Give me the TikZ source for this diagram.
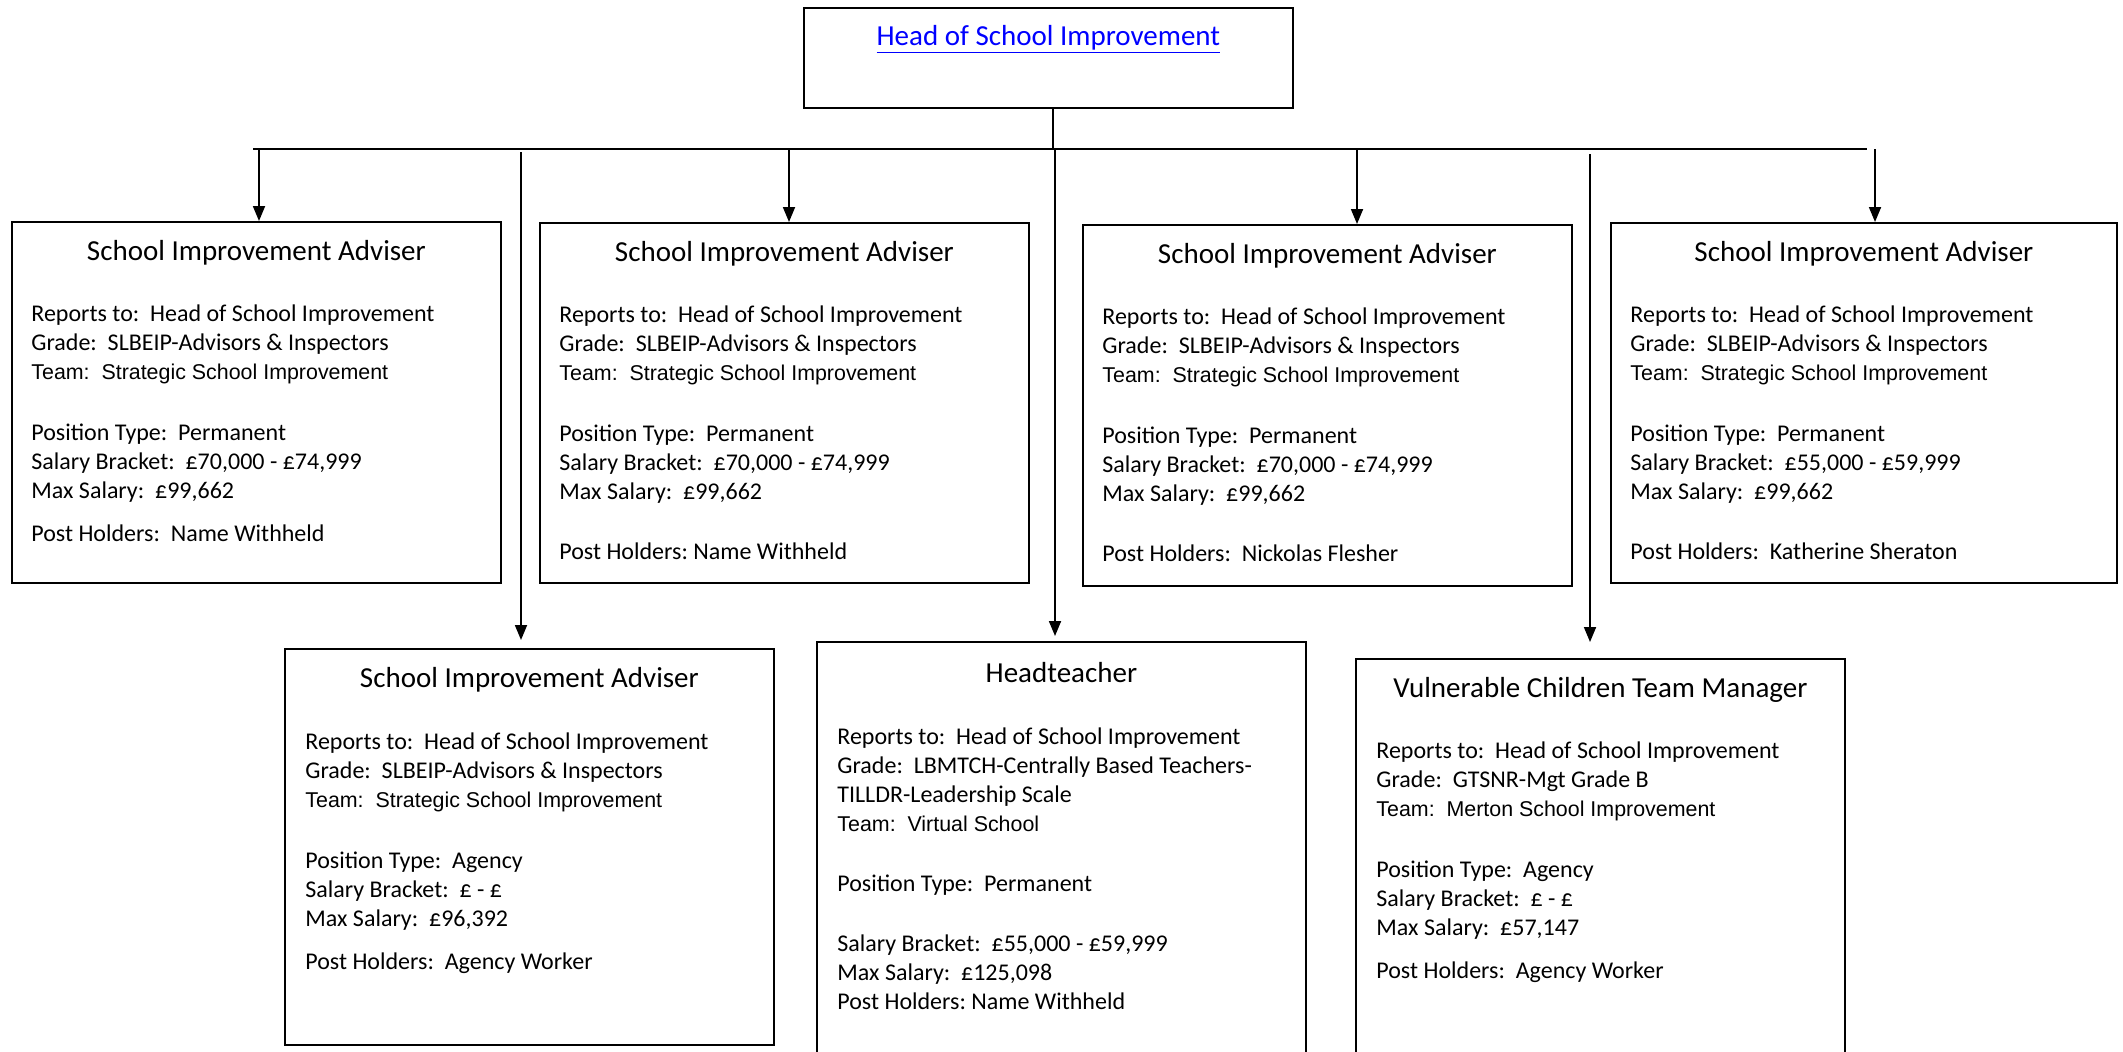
\documentclass[tikz,border=0pt]{standalone}
\usepackage{fontspec}
\setmainfont{Carlito}
\newfontfamily\teamfont{Liberation Sans}
\usetikzlibrary{arrows.meta}
\newcommand{\teamline}[1]{{\teamfont\fontsize{10.7}{14.5}\selectfont Team: \ #1}}

\begin{document}
\begin{tikzpicture}[x=0.5pt,y=-0.5pt,
   post/.style={draw,line width=0.9pt,anchor=north west,inner sep=0pt,
     minimum width=244.5pt},
   ptitle/.style={anchor=base,font=\fontsize{14.5}{17}\selectfont},
   pbody/.style={anchor=north west,align=left,inner sep=0pt,
     font=\fontsize{12}{14.5}\selectfont\frenchspacing},
   link/.style={line width=0.9pt},
   arr/.style={line width=0.9pt,-{Triangle[width=6pt,length=7.5pt]}}]
\useasboundingbox (0,0) rectangle (2123,1051);
\clip (0,0) rectangle (2123,1051);

% head of the team
\node[post,minimum height=50pt] (hosi) at (803,7) {};
\node[ptitle,text=blue] at ([yshift=-19pt]hosi.north)
   {\underline{Head of School Improvement}};

% top row
\node[post,minimum height=180.5pt] (sia1) at (11,221) {};
\node[post,minimum height=180pt] (sia2) at (539,222) {};
\node[post,minimum height=180.5pt] (sia3) at (1082,224) {};
\node[post,minimum height=180pt,minimum width=253pt] (sia4) at (1610,222) {};
% bottom row
\node[post,minimum height=198pt] (sia5) at (284,648) {};
\node[post,minimum height=215pt] (htch) at (816,641) {};
\node[post,minimum height=210pt] (vctm) at (1355,658) {};

\foreach \n in {sia1,sia2,sia3,sia4,sia5}
   \node[ptitle] at ([yshift=-19.5pt]\n.north) {School Improvement Adviser};
\node[ptitle] at ([yshift=-20.5pt]htch.north) {Headteacher};
\node[ptitle] at ([yshift=-19.5pt]vctm.north) {Vulnerable Children Team Manager};

\node[pbody] at ([shift={(10pt,-39.9pt)}]sia1.north west)
   {\strut Reports to: \ Head of School Improvement\\
    Grade: \ SLBEIP-Advisors \& Inspectors\\
    \teamline{Strategic School Improvement}\\[16pt]
    Position Type: \ Permanent\\
    Salary Bracket: \ £70,000 - £74,999\\
    Max Salary: \ £99,662\\[7pt]
    Post Holders: \ Name Withheld};
\node[pbody] at ([shift={(10pt,-39.9pt)}]sia2.north west)
   {\strut Reports to: \ Head of School Improvement\\
    Grade: \ SLBEIP-Advisors \& Inspectors\\
    \teamline{Strategic School Improvement}\\[16pt]
    Position Type: \ Permanent\\
    Salary Bracket: \ £70,000 - £74,999\\
    Max Salary: \ £99,662\\[15.3pt]
    Post Holders: Name Withheld};
\node[pbody] at ([shift={(10pt,-39.9pt)}]sia3.north west)
   {\strut Reports to: \ Head of School Improvement\\
    Grade: \ SLBEIP-Advisors \& Inspectors\\
    \teamline{Strategic School Improvement}\\[16pt]
    Position Type: \ Permanent\\
    Salary Bracket: \ £70,000 - £74,999\\
    Max Salary: \ £99,662\\[15.3pt]
    Post Holders: \ Nickolas Flesher};
\node[pbody] at ([shift={(10pt,-39.9pt)}]sia4.north west)
   {\strut Reports to: \ Head of School Improvement\\
    Grade: \ SLBEIP-Advisors \& Inspectors\\
    \teamline{Strategic School Improvement}\\[16pt]
    Position Type: \ Permanent\\
    Salary Bracket: \ £55,000 - £59,999\\
    Max Salary: \ £99,662\\[15.3pt]
    Post Holders: \ Katherine Sheraton};
\node[pbody] at ([shift={(10.5pt,-40.4pt)}]sia5.north west)
   {\strut Reports to: \ Head of School Improvement\\
    Grade: \ SLBEIP-Advisors \& Inspectors\\
    \teamline{Strategic School Improvement}\\[16pt]
    Position Type: \ Agency\\
    Salary Bracket: \ £ - £\\
    Max Salary: \ £96,392\\[7pt]
    Post Holders: \ Agency Worker};
\node[pbody] at ([shift={(10.5pt,-41.4pt)}]htch.north west)
   {\strut Reports to: \ Head of School Improvement\\
    Grade: \ LBMTCH-Centrally Based Teachers-\\
    TILLDR-Leadership Scale\\
    \teamline{Virtual School}\\[15.5pt]
    Position Type: \ Permanent\\[15.5pt]
    Salary Bracket: \ £55,000 - £59,999\\
    Max Salary: \ £125,098\\
    Post Holders: Name Withheld};
\node[pbody] at ([shift={(10.5pt,-39.9pt)}]vctm.north west)
   {\strut Reports to: \ Head of School Improvement\\
    Grade: \ GTSNR-Mgt Grade B\\
    \teamline{Merton School Improvement}\\[16pt]
    Position Type: \ Agency\\
    Salary Bracket: \ £ - £\\
    Max Salary: \ £57,147\\[7pt]
    Post Holders: \ Agency Worker};

% connectors
\coordinate (stem) at (1053,107);
\coordinate (barL) at (253,149);
\coordinate (barR) at (1867,149);
\draw[link] (stem) -- (stem |- barL);
\draw[link] (barL) -- (barR);
\coordinate (t1) at (259,149);
\coordinate (t2) at (789,149);
\coordinate (t3) at (1357,149);
\coordinate (t4) at (1875,149);
\draw[arr] (t1) -- (t1 |- sia1.north);
\draw[arr] (t2) -- (t2 |- sia2.north);
\draw[arr] (t3) -- (t3 |- sia3.north);
\draw[arr] (t4) -- (t4 |- sia4.north);
\coordinate (b1) at (521,152);
\coordinate (b2) at (1055,149);
\coordinate (b3) at (1590,154);
\draw[arr] (b1) -- ([yshift=4pt]b1 |- sia5.north);
\draw[arr] (b2) -- ([yshift=2.5pt]b2 |- htch.north);
\draw[arr] (b3) -- ([yshift=8pt]b3 |- vctm.north);
\end{tikzpicture}
\end{document}
